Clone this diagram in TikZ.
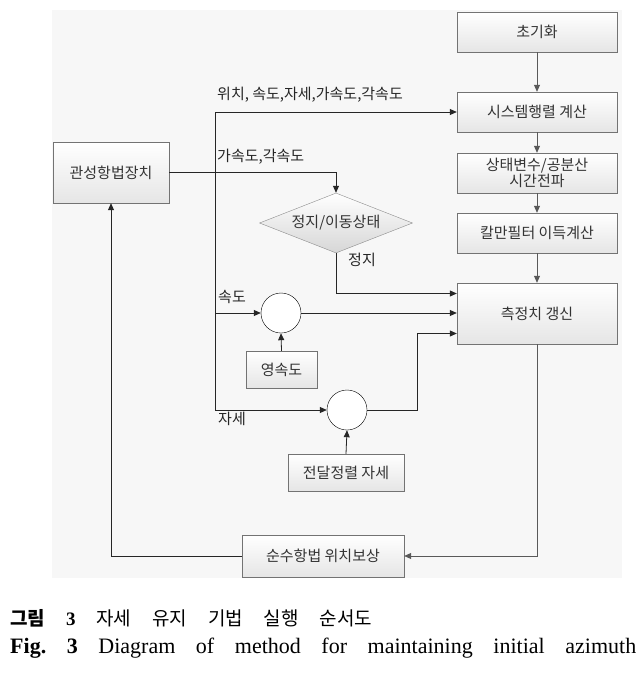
\documentclass[tikz,border=0pt]{standalone}
\usepackage{fontspec}
\setmainfont{Liberation Serif}
\newfontfamily\kr{Noto Sans CJK KR}
\usepackage{tikz}
\usetikzlibrary{arrows.meta,shapes.geometric,shadows}

\begin{document}
\begin{tikzpicture}[
    x=1pt, y=-1pt,
    font=\kr\fontsize{15}{17}\selectfont,
    >={Triangle[length=7pt,width=6pt]},
    box/.style={draw=black!55, top color=white, bottom color=black!10,
                text=black!80, align=center, inner sep=2pt,
                drop shadow={shadow xshift=1.2pt, shadow yshift=-1.2pt, opacity=0.25}},
    dia/.style={diamond, draw=black!45, top color=white, bottom color=black!16,
                text=black!80, inner sep=0pt, aspect=2.5},
    sum/.style={draw, circle, fill=white, minimum size=40pt, inner sep=0pt},
    lab/.style={inner sep=0pt, anchor=west, text=black!85},
    sig/.style={->, thick, black!85},
    flow/.style={->, thick, black!65},
  ]
  \useasboundingbox (0,0) rectangle (644,675);
  \fill[black!3] (52,10) rectangle (622,578);

  %% ---- right column -------------------------------------------------
  \node[box, minimum width=160pt, minimum height=40pt] (init) at (537,32)  {초기화};
  \node[box, minimum width=160pt, minimum height=40pt] (sys)  at (537,112) {시스템행렬 계산};
  \node[box, minimum width=160pt, minimum height=40pt] (prop) at (537,173) {상태변수/공분산\\[-1pt]시간전파};
  \node[box, minimum width=160pt, minimum height=40pt] (gain) at (537,233) {칼만필터 이득계산};
  \node[box, minimum width=160pt, minimum height=61pt] (meas) at (537,313.5) {측정치 갱신};

  \draw[flow] (init) -- (sys);
  \draw[flow] (sys)  -- (prop);
  \draw[flow] (prop) -- (gain);
  \draw[flow] (gain) -- (meas);

  %% ---- inertial navigation and bus ------------------------------------
  \node[box, minimum width=116pt, minimum height=61pt] (ins) at (111,172.5) {관성항법장치};
  \coordinate (bt) at (215,112);
  \coordinate (bb) at (215,410);
  \draw[thick, black!85] (bt) -- (bb);
  \draw[sig] (bt) -- (sys.west);
  \node[lab] at (217,95) {위치, 속도,자세,가속도,각속도};

  %% ---- stop / move detection ---------------------------------------
  \node[dia, minimum width=153pt, minimum height=60pt] (stat) at (336,223) {정지/이동상태};
  \draw[sig] (ins.east) -| (stat.north);
  \node[lab] at (217,157) {가속도,각속도};
  \draw[sig] (stat.south) |- ([yshift=20pt]meas.west);
  \node[lab] at (348,260) {정지};

  %% ---- zero velocity -------------------------------------------------
  \node[sum] (c1) at (281,313) {};
  \node[box, minimum width=71pt, minimum height=37pt] (zero) at (281.5,369.5) {영속도};
  \draw[sig] (bt |- c1.west) -- (c1.west);
  \draw[sig] (c1.east) -- (c1.east -| meas.west);
  \draw[sig] (zero.north) -- (c1.south);
  \node[lab] at (218,297) {속도};

  %% ---- transfer alignment attitude -------------------------------------
  \node[sum] (c2) at (347,410) {};
  \node[box, minimum width=116pt, minimum height=37pt] (trans) at (346,472.5) {전달정렬 자세};
  \draw[sig] (bb) -- (c2.west);
  \draw[sig] (c2.east) -- ++(50,0) |- ([yshift=-20pt]meas.west);
  \draw[sig] (trans.north) -- (c2.south);
  \node[lab] at (218,419) {자세};

  %% ---- position compensation feedback -----------------------------------
  \node[box, minimum width=162pt, minimum height=42pt] (pure) at (323,556) {순수항법 위치보상};
  \draw[flow] (meas.south) |- (pure.east);
  \draw[sig] (pure.west) -| (ins.south);

  %% ---- caption ---------------------------------------------------------
  \node[inner sep=0pt, anchor=west, font=\kr\fontsize{19}{21}\selectfont] (cap1) at (10,618)
    {\makebox[362pt][s]{{\bfseries 그림} {\rmfamily\bfseries 3} 자세 유지 기법 실행 순서도}};
  \node[inner sep=0pt, anchor=west, font=\rmfamily\fontsize{22}{24}\selectfont] (cap2) at (10,648)
    {\makebox[626pt][s]{\textbf{Fig.\ 3} Diagram of method for maintaining initial azimuth}};

\end{tikzpicture}
\end{document}
